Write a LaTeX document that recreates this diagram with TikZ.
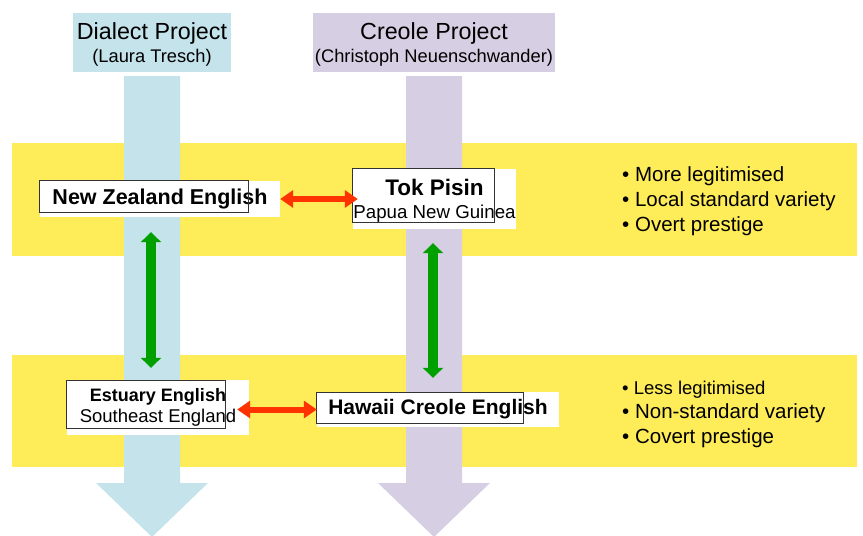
\documentclass[tikz,border=0pt]{standalone}
\usepackage{fontspec}
\setmainfont{Liberation Sans}
\usetikzlibrary{arrows.meta}
\definecolor{cblue}{RGB}{196,227,235}
\definecolor{clav}{RGB}{214,206,226}
\definecolor{cyel}{RGB}{254,236,88}
\definecolor{cred}{RGB}{255,51,0}
\definecolor{cgrn}{RGB}{0,160,0}
\begin{document}
\begin{tikzpicture}[x=1pt,y=-1pt,
 band/.style={fill=cyel,draw=none},
 wbox/.style={fill=white,draw=none,inner sep=0pt,align=center},
 bord/.style={draw=black!80,line width=0.9pt},
 redarr/.style={draw=cred,line width=6pt,{Triangle[length=13pt,width=17pt]}-{Triangle[length=13pt,width=17pt]}},
 grnarr/.style={draw=cgrn,line width=10pt,{Triangle[length=10pt,width=20pt]}-{Triangle[length=10pt,width=20pt]}},
 titlebox/.style={inner sep=0pt,align=center,minimum height=59pt,font=\fontsize{18.3}{22.5}\selectfont},
 bul/.style={anchor=base west,inner sep=0pt}
]
\useasboundingbox (0,0) rectangle (863,536);
% yellow bands
\fill[band] (12,143) rectangle (857,256);
\fill[band] (12,355) rectangle (857,467);
% big arrows
\fill[cblue] (124,76) -- (180,76) -- (180,483) -- (208,483) -- (152,537) -- (96,483) -- (124,483) -- cycle;
\fill[clav] (406,76) -- (462,76) -- (462,483) -- (490,483) -- (434,537) -- (378,483) -- (406,483) -- cycle;
\coordinate (axL) at (151,0);
\coordinate (axR) at (433,0);
% titles
\node[titlebox,fill=cblue,minimum width=158pt,text depth=0pt] (dial) at (152,42.5)
  {{\fontsize{23.3}{22}\selectfont Dialect Project}\\(Laura Tresch)};
\node[titlebox,fill=clav,minimum width=242pt,text depth=0pt] (creo) at (434,42.5)
  {{\fontsize{23.3}{22}\selectfont Creole Project}\\(Christoph Neuenschwander)};
% variety nodes
\node[wbox,minimum width=240pt,minimum height=36pt,font=\bfseries\fontsize{21.5}{24}\selectfont] (nz) at (160,199) {New Zealand English};
\node[wbox,minimum width=163pt,minimum height=60pt,font=\fontsize{18.7}{23}\selectfont,text depth=0pt] (tok) at (434.5,199)
  {{\bfseries\fontsize{22.5}{23}\selectfont Tok Pisin}\\Papua New Guinea};
\node[wbox,minimum width=182pt,minimum height=55pt,font=\fontsize{18.5}{21}\selectfont] (est) at (158,407.5)
  {{\bfseries\fontsize{18}{21}\selectfont Estuary English}\\Southeast England};
\node[wbox,minimum width=242pt,minimum height=35pt,font=\bfseries\fontsize{21}{24}\selectfont] (haw) at (438,409.5) {Hawaii Creole English};
% borders
\draw[bord] (nz.north west) rectangle ([xshift=-32pt,yshift=5pt]nz.south east);
\draw[bord] (tok.north west) rectangle ([xshift=-22pt,yshift=7pt]tok.south east);
\draw[bord] ([yshift=-1pt]est.north west) rectangle ([xshift=-24pt,yshift=7pt]est.south east);
\draw[bord] ([yshift=-1pt]haw.north west) rectangle ([xshift=-36pt,yshift=4pt]haw.south east);
% green arrows
\draw[grnarr,shorten <=15pt,shorten >=12pt] (nz.south -| axL) -- (est.north -| axL);
\draw[grnarr,shorten <=14pt,shorten >=14pt] (tok.south -| axR) -- (haw.north -| axR);
% red arrows
\draw[redarr,shorten >=-5pt] (nz.east) -- (nz.east -| tok.west);
\draw[redarr,shorten <=-12pt] (est.east |- haw.west) -- (haw.west);
% bullets
\node[bul,font=\fontsize{20.5}{24}\selectfont] (b1) at (622,181) {• More legitimised};
\node[bul,font=\fontsize{20.5}{24}\selectfont] (b2) at (622,206) {• Local standard variety};
\node[bul,font=\fontsize{20.5}{24}\selectfont] (b3) at (622,231) {• Overt prestige};
\node[bul,font=\fontsize{18.5}{24}\selectfont] (b4) at (622,394) {• Less legitimised};
\node[bul,font=\fontsize{20.5}{24}\selectfont] (b5) at (622,418) {• Non-standard variety};
\node[bul,font=\fontsize{20.5}{24}\selectfont] (b6) at (622,443) {• Covert prestige};
\end{tikzpicture}
\end{document}
